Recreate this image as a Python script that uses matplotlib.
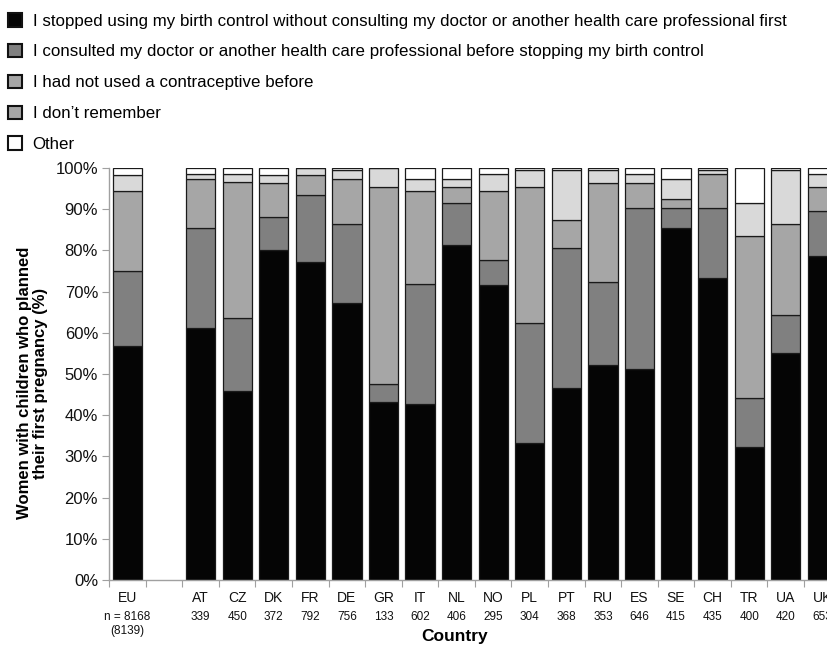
import numpy as np
import matplotlib
matplotlib.use('Agg')
import matplotlib.pyplot as plt
from matplotlib.patches import Patch
import matplotlib.transforms as mtransforms

plt.rcParams['font.family'] = ['Liberation Sans', 'DejaVu Sans']

countries = ['EU', 'AT', 'CZ', 'DK', 'FR', 'DE', 'GR', 'IT', 'NL', 'NO',
             'PL', 'PT', 'RU', 'ES', 'SE', 'CH', 'TR', 'UA', 'UK']
n_labels = ['n = 8168\n(8139)', '339', '450', '372', '792', '756', '133', '602',
            '406', '295', '304', '368', '353', '646', '415', '435', '400', '420', '653']

# percent of women, one list per answer
stopped = [56.8, 61.2, 45.8, 80.1, 77.3, 67.2, 43.2, 42.7, 81.3, 71.5,
           33.3, 46.7, 52.3, 51.3, 85.4, 73.3, 32.3, 55.2, 78.7]
consulted = [18.2, 24.2, 17.9, 8.1, 16.1, 19.2, 4.4, 29.2, 10.1, 6.2,
             29.0, 33.8, 20.0, 39.0, 4.9, 17.0, 11.9, 9.1, 10.8]
not_used = [19.3, 11.9, 32.8, 8.2, 5.0, 10.9, 47.7, 22.4, 3.9, 16.6,
            33.0, 6.9, 24.0, 6.0, 2.1, 8.2, 39.2, 22.0, 6.0]
dont_remember = [4.0, 1.2, 2.0, 2.0, 1.6, 2.2, 4.7, 3.0, 2.0, 4.2,
                 4.1, 12.0, 3.1, 2.2, 4.9, 0.9, 8.0, 13.1, 3.0]
other = [1.7, 1.5, 1.5, 1.6, 0.0, 0.5, 0.0, 2.7, 2.7, 1.5,
         0.6, 0.6, 0.6, 1.5, 2.7, 0.6, 8.6, 0.6, 1.5]

labels = ['I stopped using my birth control without consulting my doctor or another health care professional first',
          'I consulted my doctor or another health care professional before stopping my birth control',
          'I had not used a contraceptive before',
          'I don\u2019t remember',
          'Other']
series = [stopped, consulted, not_used, dont_remember, other]
colors = ['#050505', '#808080', '#a6a6a6', '#d9d9d9', '#ffffff']
legend_colors = ['#050505', '#808080', '#a6a6a6', '#a6a6a6', '#ffffff']

# EU first, then one empty slot, then the countries
x = np.array([0] + list(range(2, len(countries) + 1)))

fig = plt.figure(figsize=(8.28, 6.45), dpi=100)
ax = fig.add_axes([109.2 / 828, 65 / 645, 731.4 / 828, 412 / 645])

bottom = np.zeros(len(countries))
for vals, c in zip(series, colors):
    vals = np.array(vals)
    ax.bar(x, vals, width=0.8, bottom=bottom, color=c, edgecolor='#1a1a1a',
           linewidth=0.9)
    bottom += vals

ax.set_xlim(-0.5, 19.5)
ax.set_ylim(0, 100)
ax.set_yticks(np.arange(0, 101, 10))
ax.set_yticklabels(['%d%%' % v for v in range(0, 101, 10)])
ax.tick_params(axis='y', labelsize=12, length=5, width=0.8, color='#a0a0a0',
               pad=3, labelcolor='#111111')

ax.set_xticks(x)
ax.set_xticklabels(countries)
ax.tick_params(axis='x', which='major', length=0, labelsize=10, pad=8,
               labelcolor='#111111')
ax.set_xticks(np.arange(-0.5, 20, 1), minor=True)
ax.tick_params(axis='x', which='minor', length=5, width=0.8, color='#a0a0a0')

trans = mtransforms.blended_transform_factory(ax.transData, ax.transAxes)
for xi, t in zip(x, n_labels):
    ax.text(xi, -0.075, t, transform=trans, ha='center', va='top',
            fontsize=8.5, color='#111111', linespacing=1.25)

for s in ['top', 'right']:
    ax.spines[s].set_visible(False)
for s in ['left', 'bottom']:
    ax.spines[s].set_color('#a0a0a0')
    ax.spines[s].set_linewidth(1.0)

ax.set_ylabel('Women with children who planned\ntheir first pregnancy (%)',
              fontsize=12, fontweight='bold', linespacing=1.1)
ax.yaxis.set_label_coords(-0.083, 0.478)

fig.text(455 / 828, 1 / 645, 'Country', ha='center', va='bottom',
         fontsize=12.5, fontweight='bold')

handles = [Patch(facecolor=c, edgecolor='#111111', linewidth=1.5) for c in legend_colors]
fig.legend(handles, labels, loc='upper left', bbox_to_anchor=(8 / 828, 1 - 13 / 645),
           frameon=False, fontsize=12.2, handlelength=0.85, handleheight=0.85,
           handletextpad=0.6, labelspacing=0.9, borderpad=0, borderaxespad=0)

fig.savefig('out.png', dpi=100)
